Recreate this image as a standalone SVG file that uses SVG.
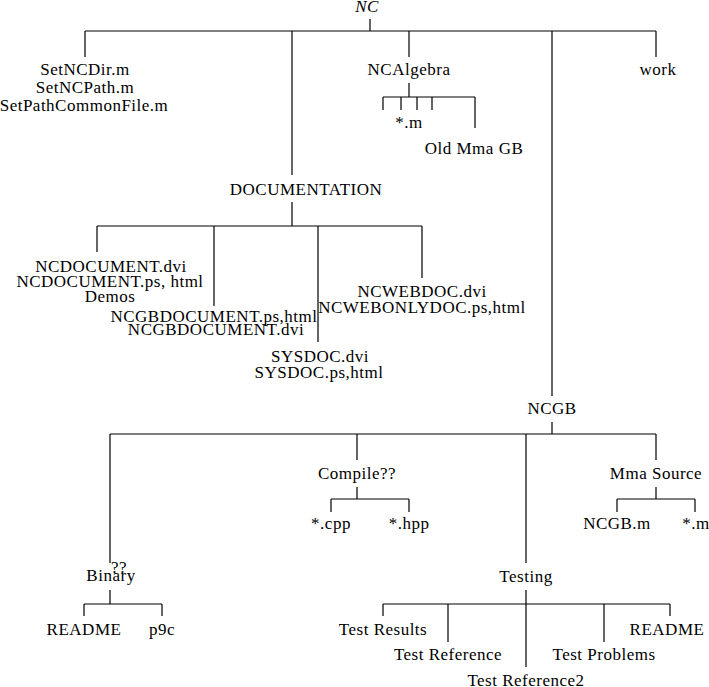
<svg xmlns="http://www.w3.org/2000/svg" width="709" height="687" viewBox="0 0 709 687">
<style>
text{font-family:"Liberation Serif","Times New Roman",serif;font-size:17px;letter-spacing:0.5px;fill:#000;text-anchor:middle}
.it{font-style:italic}
#connectors path{stroke:#000;stroke-width:1.2;fill:none}
</style>
<rect width="709" height="687" fill="#fff"/>
<g id="connectors">
<path d="M370 19V31M85 31H656M85 31V57M292 31V175M409 31V57M552 31V396M656 31V57"/>
<path d="M409 83V97M383 97H475M383 97V110M401 97V110M417 97V110M432 97V110M475 97V128"/>
<path d="M292 202V226M97 226H422M97 226V252M214 226V306M318 226V342M422 226V278"/>
<path d="M552 422V434M110 434H656M110 434V563M357 434V460M526 434V563M656 434V460"/>
<path d="M357 487V499M331 499H409M331 499V512M409 499V512"/>
<path d="M656 487V499M617 499H695M617 499V512M695 499V512"/>
<path d="M110 590V604M84 604H162M84 604V616M162 604V616"/>
<path d="M526 590V604M383 604H670M383 604V616M448 604V642M526 604V667M604 604V642M670 604V616"/>
</g>
<g id="nc"><text class="it" x="367" y="12">NC</text></g>
<g id="setfiles"><text x="85" y="75">SetNCDir.m</text><text x="85" y="93">SetNCPath.m</text><text x="84" y="111">SetPathCommonFile.m</text></g>
<g id="ncalgebra"><text x="409" y="75">NCAlgebra</text></g>
<g id="work"><text x="658" y="75">work</text></g>
<g id="alg-m"><text x="409" y="128">*.m</text></g>
<g id="oldmma"><text x="474" y="154">Old Mma GB</text></g>
<g id="documentation"><text x="306" y="195">DOCUMENTATION</text></g>
<g id="ncdocument"><text x="111" y="272">NCDOCUMENT.dvi</text><text x="110" y="287">NCDOCUMENT.ps, html</text><text x="110" y="302">Demos</text></g>
<g id="ncgbdocument"><text x="214" y="322">NCGBDOCUMENT.ps,html</text><text x="216" y="335">NCGBDOCUMENT.dvi</text></g>
<g id="sysdoc"><text x="320" y="362">SYSDOC.dvi</text><text x="319" y="378">SYSDOC.ps,html</text></g>
<g id="ncwebdoc"><text x="422" y="297">NCWEBDOC.dvi</text><text x="422" y="313">NCWEBONLYDOC.ps,html</text></g>
<g id="ncgb"><text x="552" y="414">NCGB</text></g>
<g id="compile"><text x="357" y="479">Compile??</text></g>
<g id="mmasource"><text x="656" y="479">Mma Source</text></g>
<g id="cpp"><text x="331" y="529">*.cpp</text></g>
<g id="hpp"><text x="409" y="529">*.hpp</text></g>
<g id="ncgbm"><text x="617" y="529">NCGB.m</text></g>
<g id="mma-m"><text x="696" y="529">*.m</text></g>
<g id="binary"><text x="111" y="581">Binary</text><text x="119" y="573">??</text></g>
<g id="testing"><text x="526" y="582">Testing</text></g>
<g id="readme1"><text x="84" y="635">README</text></g>
<g id="p9c"><text x="162" y="635">p9c</text></g>
<g id="testresults"><text x="383" y="635">Test Results</text></g>
<g id="testreference"><text x="448" y="660">Test Reference</text></g>
<g id="testreference2"><text x="526" y="686">Test Reference2</text></g>
<g id="testproblems"><text x="604" y="660">Test Problems</text></g>
<g id="readme2"><text x="667" y="635">README</text></g>
</svg>
